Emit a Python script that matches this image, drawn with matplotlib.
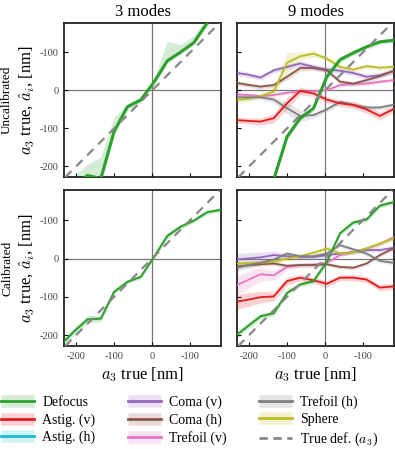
import matplotlib
matplotlib.use("Agg")
import matplotlib.pyplot as plt
from matplotlib.lines import Line2D
import numpy as np

plt.rcParams["font.family"] = ["Liberation Serif", "DejaVu Serif"]
plt.rcParams["mathtext.fontset"] = "cm"

# ---------------------------------------------------------------------------
# Data
# ---------------------------------------------------------------------------
a3_true = [-240, -205, -170, -135, -100, -65, -30, 5, 40, 75, 110, 145, 180]

# 3 modes, uncalibrated (defocus only), asymmetric band
unc3_defocus = [-280, -250, -224, -232, -108, -43, -25, 22, 78, 101, 126, 178, 215]
unc3_lo = [-300, -270, -245, -250, -118, -50, -32, 14, 72, 96, 120, 170, 205]
unc3_hi = [-260, -225, -195, -175, -70, -36, -18, 30, 130, 120, 145, 190, 225]

# 3 modes, calibrated
cal3_defocus = [-225, -190, -159, -157, -87, -61, -48, 4, 59, 83, 99, 121, 127]
cal3_err = [8, 10, 10, 8, 6, 5, 5, 4, 8, 6, 6, 6, 6]

# 9 modes, uncalibrated
unc9 = {
    "defocus":  [-400, -350, -300, -235, -122, -73, -47, 36, 81, 99, 115, 128, 132],
    "astig_v":  [-78, -80, -82, -73, -34, -1, -8, -24, -34, -38, -50, -67, -50],
    "coma_v":   [47, 42, 34, 53, 62, 71, 62, 55, 52, 46, 36, 40, 51],
    "coma_h":   [21, 15, 10, 14, 36, 59, 59, 53, 23, 18, 27, 38, 51],
    "trefoil_v": [-10, -12, -15, -12, -6, -3, -2, 1, 14, 17, 18, 23, 27],
    "trefoil_h": [-18, -18, -18, -24, -47, -67, -65, -50, -30, -38, -45, -45, -38],
    "sphere":   [-27, -22, -15, -3, 73, 90, 97, 84, 62, 55, 64, 60, 62],
}
unc9_err = {
    "defocus":  [6, 6, 6, 6, 6, 6, 6, 8, 8, 6, 6, 6, 6],
    "astig_v":  [8, 8, 9, 12, 15, 10, 8, 8, 8, 9, 10, 10, 8],
    "coma_v":   [7, 7, 7, 7, 7, 7, 7, 7, 7, 7, 7, 7, 7],
    "coma_h":   [6, 6, 6, 6, 8, 8, 6, 6, 6, 6, 6, 6, 6],
    "trefoil_v": [5, 5, 5, 5, 5, 5, 5, 5, 5, 5, 5, 5, 5],
    "trefoil_h": [6, 6, 6, 8, 15, 15, 8, 6, 6, 6, 6, 6, 6],
    "sphere":   [6, 6, 6, 10, 27, 10, 8, 6, 6, 6, 6, 6, 6],
}

# 9 modes, calibrated
cal9 = {
    "defocus":  [-205, -178, -151, -143, -90, -68, -59, -9, 66, 94, 102, 138, 147],
    "astig_v":  [-114, -108, -101, -99, -59, -50, -57, -66, -50, -50, -55, -76, -73],
    "coma_v":   [-3, 0, 3, 9, 6, 4, 4, 9, 13, 17, 22, 22, 28],
    "coma_h":   [-22, -18, -15, -13, -19, -17, -17, -15, -22, -24, -13, 9, 26],
    "trefoil_v": [-73, -57, -41, -44, -22, -17, -16, -11, 9, 17, 26, 38, 55],
    "trefoil_h": [-26, -18, -11, -3, 13, 6, 6, 13, 35, 24, 13, -6, -11],
    "sphere":   [-13, -12, -11, -9, 0, 6, 15, 26, 13, 16, 26, 39, 52],
}
cal9_err = {
    "defocus":  [9, 8, 8, 7, 6, 6, 6, 6, 6, 6, 6, 6, 6],
    "astig_v":  [20, 18, 15, 12, 10, 8, 8, 8, 8, 8, 8, 8, 8],
    "coma_v":   [15, 15, 14, 10, 8, 6, 6, 5, 5, 5, 5, 5, 5],
    "coma_h":   [5, 5, 5, 5, 5, 5, 5, 5, 5, 5, 5, 5, 5],
    "trefoil_v": [25, 22, 18, 12, 8, 6, 6, 5, 5, 5, 5, 5, 5],
    "trefoil_h": [10, 8, 6, 5, 5, 5, 5, 5, 5, 5, 5, 5, 5],
    "sphere":   [6, 6, 6, 6, 6, 6, 6, 6, 6, 6, 6, 6, 6],
}

tick_pos = [-200, -100, 0, 100]
tick_labels = ["-200", "-100", "0", "-100"]

# ---------------------------------------------------------------------------
# Aesthetics
# ---------------------------------------------------------------------------
COLORS = {
    "defocus":   "#2ca02c",
    "astig_v":   "#e41a1c",
    "astig_h":   "#17becf",
    "coma_v":    "#9467bd",
    "coma_h":    "#8c564b",
    "trefoil_v": "#e377c2",
    "trefoil_h": "#7f7f7f",
    "sphere":    "#bcbd22",
}
LABELS = {
    "defocus":   "Defocus",
    "astig_v":   "Astig. (v)",
    "astig_h":   "Astig. (h)",
    "coma_v":    "Coma (v)",
    "coma_h":    "Coma (h)",
    "trefoil_v": "Trefoil (v)",
    "trefoil_h": "Trefoil (h)",
    "sphere":    "Sphere",
}
DRAW_ORDER = ["trefoil_v", "coma_v", "coma_h", "sphere", "trefoil_h", "astig_v", "defocus"]

XLIM = (-231, 182)
YLIM = (-229, 178)
TICK_COLOR = "#444444"


def style_axes(ax, show_x, show_y):
    ax.set_xlim(*XLIM)
    ax.set_ylim(*YLIM)
    ax.axhline(0, color="#777777", lw=0.9, zorder=1)
    ax.axvline(0, color="#777777", lw=0.9, zorder=1)
    ax.axline((0, 0), slope=1, color="#888888", lw=1.6, ls=(0, (4, 3)), zorder=4)
    ax.set_xticks(tick_pos)
    ax.set_yticks(tick_pos)
    ax.set_xticklabels(tick_labels if show_x else [])
    ax.set_yticklabels(tick_labels if show_y else [])
    ax.tick_params(direction="in", length=3, width=0.8, labelsize=7.5,
                   labelcolor=TICK_COLOR, pad=4)
    for sp in ax.spines.values():
        sp.set_linewidth(1.3)
        sp.set_color("#222222")


def band_line(ax, y, lo, hi, color, lw):
    ax.fill_between(a3_true, lo, hi, color=color, alpha=0.2, lw=0, zorder=2)
    ax.plot(a3_true, y, color=color, lw=lw, zorder=3)


fig = plt.figure(figsize=(3.95, 4.49), dpi=100)

ax_tl = fig.add_axes([0.163, 0.605, 0.397, 0.344])
ax_tr = fig.add_axes([0.601, 0.605, 0.396, 0.344])
ax_bl = fig.add_axes([0.163, 0.229, 0.397, 0.347])
ax_br = fig.add_axes([0.601, 0.229, 0.396, 0.347])

style_axes(ax_tl, False, True)
style_axes(ax_tr, False, False)
style_axes(ax_bl, True, True)
style_axes(ax_br, True, False)

# 3 modes
band_line(ax_tl, unc3_defocus, unc3_lo, unc3_hi, COLORS["defocus"], 2.2)
y = np.array(cal3_defocus)
e = np.array(cal3_err)
band_line(ax_bl, y, y - e, y + e, COLORS["defocus"], 1.5)

# 9 modes
for key in DRAW_ORDER:
    y = np.array(unc9[key])
    e = np.array(unc9_err[key])
    band_line(ax_tr, y, y - e, y + e, COLORS[key], 2.2 if key == "defocus" else 1.3)
    y = np.array(cal9[key])
    e = np.array(cal9_err[key])
    band_line(ax_br, y, y - e, y + e, COLORS[key], 1.5 if key == "defocus" else 1.3)

ax_tl.set_title("3 modes", fontsize=12, pad=5)
ax_tr.set_title("9 modes", fontsize=12, pad=5)
ax_bl.set_xlabel(r"$a_3$ true [nm]", fontsize=12, labelpad=3)
ax_br.set_xlabel(r"$a_3$ true [nm]", fontsize=12, labelpad=3)

for ax, name in ((ax_tl, "Uncalibrated"), (ax_bl, "Calibrated")):
    pos = ax.get_position()
    yc = (pos.y0 + pos.y1) / 2
    fig.text(0.018, yc, name, rotation=90, ha="center", va="center", fontsize=9.5)
    fig.text(0.068, yc, r"$a_3$ true, $\hat{a}_i$, [nm]", rotation=90,
             ha="center", va="center", fontsize=12)

# Legend
handles = []
labels = []
for key in ["defocus", "astig_v", "astig_h", "coma_v", "coma_h", "trefoil_v",
            "trefoil_h", "sphere"]:
    c = COLORS[key]
    handles.append((Line2D([], [], color=c, alpha=0.2, lw=9, solid_capstyle="butt"),
                    Line2D([], [], color=c, lw=2)))
    labels.append(LABELS[key])
handles.append(Line2D([], [], color="#888888", lw=2, ls=(0, (3, 2))))
labels.append(r"True def. ($a_3$)")

fig.legend(handles, labels, ncol=3, loc="upper left", bbox_to_anchor=(-0.005, 0.126),
           frameon=False, fontsize=10, handlelength=2.4, handletextpad=0.6,
           columnspacing=2.3, labelspacing=0.3, borderpad=0.2, borderaxespad=0)

fig.savefig("out.png", dpi=100)
